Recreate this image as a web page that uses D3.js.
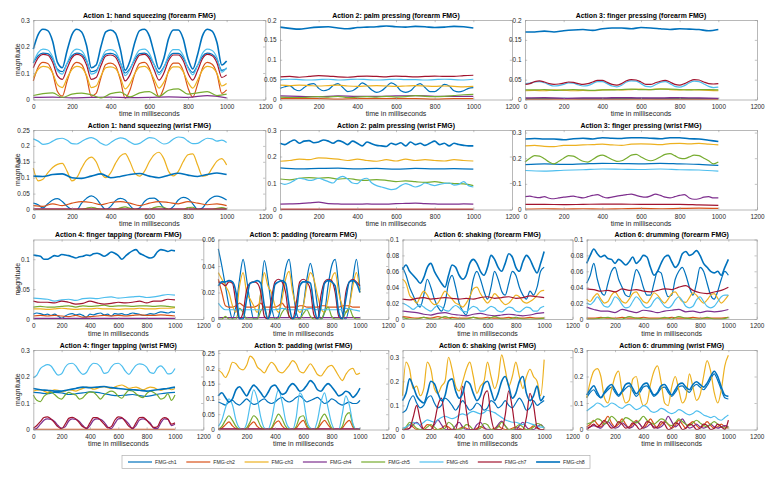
<!DOCTYPE html>
<html>
<head>
<meta charset="utf-8">
<script src="https://cdn.jsdelivr.net/npm/d3@7"></script>
<style>
  body { margin: 0; background: #fff; }
  svg { display: block; font-family: "Liberation Sans", Arial, Helvetica, sans-serif; }
</style>
</head>
<body>
<svg id="chart" width="777" height="478"></svg>
<script>
// channel names + matlab default colour order
const channels = ["FMG-ch1", "FMG-ch2", "FMG-ch3", "FMG-ch4", "FMG-ch5", "FMG-ch6", "FMG-ch7", "FMG-ch8"];
const colors = ["#0072BD", "#D95319", "#EDB120", "#7E2F8E", "#77AC30", "#4DBEEE", "#A2142F", "#0072BD"];
const xTicks = [0, 200, 400, 600, 800, 1000, 1200];

const titles = [
  "Action 1: hand squeezing (forearm FMG)", "Action 2: palm pressing (forearm FMG)", "Action 3: finger pressing (forearm FMG)",
  "Action 1: hand squeezing (wrist FMG)", "Action 2: palm pressing (wrist FMG)", "Action 3: finger pressing (wrist FMG)",
  "Action 4: finger tapping (forearm FMG)", "Action 5: padding (forearm FMG)", "Action 6: shaking (forearm FMG)", "Action 6: drumming (forearm FMG)",
  "Action 4: finger tapping (wrist FMG)", "Action 5: padding (wrist FMG)", "Action 6: shaking (wrist FMG)", "Action 6: drumming (wrist FMG)"
];
const yMax = [0.3, 0.2, 0.2, 0.25, 0.3, 0.31, 0.133, 0.06, 0.1, 0.1, 0.3, 0.26, 0.33, 0.3];
const yTicks = [
  [0, 0.1, 0.2, 0.3], [0, 0.05, 0.1, 0.15, 0.2], [0, 0.05, 0.1, 0.15, 0.2],
  [0, 0.05, 0.1, 0.15, 0.2, 0.25], [0, 0.1, 0.2, 0.3], [0, 0.1, 0.2, 0.3],
  [0, 0.05, 0.1], [0, 0.02, 0.04, 0.06], [0, 0.02, 0.04, 0.06, 0.08, 0.1], [0, 0.02, 0.04, 0.06, 0.08, 0.1],
  [0, 0.1, 0.2, 0.3], [0, 0.05, 0.1, 0.15, 0.2, 0.25], [0, 0.1, 0.2, 0.3], [0, 0.1, 0.2, 0.3]
];

// each series is sampled evenly over 0..1000 ms, ch1..ch8
const a1Forearm = [
  [0.138,0.165,0.175,0.173,0.153,0.114,0.105,0.136,0.165,0.175,0.171,0.146,0.105,0.11,0.144,0.171,0.174,0.168,0.139,0.1,0.117,0.151,0.173,0.175,0.163,0.132,0.102,0.122,0.158,0.174,0.174,0.158,0.122,0.102,0.129,0.163,0.175,0.171,0.151,0.11,0.117],
  [0.07,0.122,0.14,0.136,0.1,0.03,0.013,0.07,0.122,0.14,0.132,0.087,0.013,0.023,0.083,0.132,0.137,0.127,0.075,0.005,0.036,0.097,0.136,0.14,0.118,0.062,0.009,0.044,0.109,0.137,0.137,0.109,0.044,0.009,0.058,0.118,0.14,0.133,0.097,0.023,0.036],
  [0.083,0.114,0.125,0.122,0.1,0.056,0.045,0.081,0.114,0.125,0.12,0.092,0.045,0.051,0.089,0.12,0.123,0.117,0.084,0.04,0.06,0.098,0.122,0.125,0.111,0.076,0.043,0.065,0.105,0.123,0.123,0.105,0.065,0.043,0.073,0.111,0.125,0.121,0.098,0.051,0.06],
  [0.008,0.009,0.006,0.008,0.009,0.007,0.008,0.01,0.008,0.015,0.006],
  [0.015,0.022,0.025,0.008,0.02,0.024,0.018,0.006,0.022,0.028,0.01,0.025,0.03,0.012,0.035,0.04,0.02,0.025,0.03,0.015,0.02],
  [0.14,0.177,0.19,0.187,0.161,0.109,0.096,0.138,0.177,0.19,0.184,0.151,0.096,0.103,0.148,0.184,0.188,0.18,0.142,0.09,0.113,0.158,0.187,0.19,0.174,0.132,0.093,0.119,0.167,0.188,0.188,0.167,0.119,0.093,0.129,0.174,0.19,0.185,0.158,0.103,0.12],
  [0.12,0.157,0.17,0.167,0.141,0.089,0.076,0.118,0.157,0.17,0.164,0.131,0.076,0.083,0.128,0.164,0.168,0.16,0.122,0.07,0.093,0.138,0.167,0.17,0.154,0.112,0.073,0.099,0.147,0.168,0.168,0.147,0.099,0.073,0.109,0.154,0.17,0.165,0.138,0.083,0.093],
  [0.19,0.245,0.265,0.26,0.22,0.14,0.12,0.185,0.245,0.265,0.255,0.205,0.12,0.13,0.2,0.255,0.262,0.25,0.19,0.11,0.145,0.215,0.26,0.265,0.24,0.175,0.115,0.155,0.23,0.262,0.262,0.23,0.155,0.115,0.17,0.24,0.265,0.258,0.215,0.13,0.145]
];
const a2Forearm = [
  [0.028,0.032,0.035,0.026,0.022,0.03,0.038,0.04,0.028,0.022,0.025,0.035,0.04,0.03,0.02,0.022,0.03,0.042,0.035,0.024,0.018,0.022,0.032,0.042,0.036,0.022,0.018,0.022,0.034,0.04,0.03,0.02,0.02,0.028,0.038,0.034,0.022,0.019,0.022,0.028,0.03],
  [0.002,0.002,0.002,0.001,0.002,0.002,0.002,0.002,0.001,0.002,0.002],
  [0.036,0.035,0.036,0.035,0.034,0.035,0.036,0.034,0.033,0.034,0.035,0.034,0.033,0.034,0.035,0.034,0.033,0.034,0.033,0.032,0.033],
  [0.009,0.008,0.007,0.009,0.008,0.008,0.009,0.01,0.008,0.008,0.008],
  [0.006,0.005,0.005,0.006,0.007,0.006,0.008,0.005,0.006,0.007,0.006,0.008,0.006,0.007,0.01,0.008,0.007,0.008,0.01,0.012,0.013],
  [0.05,0.051,0.05,0.049,0.05,0.051,0.049,0.05,0.051,0.05,0.049,0.05,0.051,0.05,0.05,0.049,0.05,0.051,0.05,0.049,0.051],
  [0.057,0.058,0.056,0.058,0.06,0.059,0.057,0.056,0.058,0.059,0.058,0.057,0.059,0.058,0.057,0.058,0.059,0.058,0.058,0.06,0.061],
  [0.182,0.179,0.177,0.18,0.182,0.183,0.18,0.178,0.181,0.182,0.183,0.185,0.183,0.182,0.184,0.183,0.181,0.182,0.184,0.183,0.18]
];
const a3Forearm = [
  [0.002,0.002,0.003,0.002,0.002,0.002,0.003,0.002,0.002,0.002,0.002],
  [0.001,0.001,0.001,0.001,0.001,0.001,0.001,0.001,0.001,0.001,0.001],
  [0.022,0.023,0.022,0.024,0.023,0.022,0.023,0.022,0.024,0.025,0.024,0.025,0.026,0.025,0.027,0.025,0.024,0.025,0.024,0.023,0.022],
  [0.004,0.005,0.003,0.004,0.004,0.005,0.004,0.004,0.005,0.004,0.003],
  [0.024,0.024,0.025,0.023,0.024,0.025,0.024,0.023,0.024,0.024,0.025,0.026,0.025,0.025,0.026,0.026,0.025,0.024,0.025,0.025,0.024],
  [0.04,0.041,0.044,0.045,0.042,0.037,0.034,0.035,0.038,0.042,0.041,0.037,0.034,0.035,0.04,0.045,0.045,0.04,0.034,0.032,0.036,0.044,0.047,0.046,0.04,0.033,0.032,0.037,0.043,0.045,0.04,0.033,0.031,0.035,0.042,0.046,0.045,0.039,0.033,0.03,0.031],
  [0.038,0.04,0.045,0.047,0.044,0.04,0.038,0.039,0.041,0.044,0.043,0.04,0.038,0.04,0.044,0.048,0.048,0.043,0.038,0.036,0.04,0.047,0.05,0.049,0.044,0.038,0.038,0.042,0.046,0.048,0.044,0.038,0.036,0.04,0.046,0.05,0.049,0.044,0.04,0.039,0.04],
  [0.17,0.17,0.172,0.17,0.173,0.175,0.176,0.174,0.178,0.18,0.18,0.178,0.181,0.18,0.178,0.176,0.178,0.177,0.176,0.173,0.176]
];
const a1Wrist = [
  [0.02,0.015,0.005,0.018,0.03,0.034,0.025,0.01,0,0,0.02,0.035,0.043,0.035,0.015,0,0.01,0.028,0.035,0.03,0.012,0,0.005,0.025,0.035,0.036,0.025,0.005,0,0.01,0.03,0.038,0.034,0.018,0,0.005,0.025,0.038,0.042,0.038,0.03],
  [0.012,0.01,0.018,0.012,0.02,0.025,0.022,0.015,0.022,0.025,0.02,0.012,0.02,0.025,0.022,0.018,0.025,0.02,0.015,0.018,0.012],
  [0.13,0.09,0.095,0.115,0.132,0.142,0.145,0.12,0.09,0.1,0.13,0.155,0.165,0.15,0.115,0.1,0.115,0.145,0.168,0.176,0.15,0.115,0.105,0.12,0.15,0.172,0.18,0.16,0.12,0.106,0.12,0.15,0.172,0.175,0.14,0.105,0.108,0.13,0.152,0.16,0.14],
  [0.001,0.001,0.001,0.001,0.001,0.001,0.001,0.001,0.001,0.001,0.001],
  [0,0,0,0,0,0,0,0,0,0,0,0.004,0.007,0.004,0,0,0,0,0.005,0.008,0.004,0,0,0,0,0.006,0.009,0.007,0,0,0,0,0.006,0.007,0,0,0,0,0.004,0.006,0.002],
  [0.222,0.215,0.205,0.207,0.215,0.222,0.224,0.218,0.207,0.206,0.214,0.222,0.226,0.22,0.208,0.202,0.21,0.22,0.225,0.222,0.212,0.205,0.208,0.218,0.226,0.224,0.214,0.206,0.21,0.222,0.228,0.226,0.215,0.207,0.208,0.217,0.224,0.222,0.215,0.218,0.211],
  [0.001,0.001,0.001,0.001,0.001,0.001,0.001,0.001,0.001,0.001,0.001],
  [0.105,0.104,0.11,0.112,0.1,0.098,0.105,0.112,0.1,0.104,0.11,0.113,0.105,0.1,0.108,0.114,0.108,0.104,0.11,0.115,0.11]
];
const a2Wrist = [
  [0.157,0.153,0.155,0.156,0.153,0.155,0.152,0.155,0.153,0.154,0.152],
  [0.001,0.001,0.001,0.001,0.001,0.001,0.001,0.001,0.001,0.001,0.001],
  [0.182,0.185,0.19,0.188,0.195,0.193,0.19,0.185,0.19,0.185,0.182,0.188,0.183,0.19,0.185,0.188,0.185,0.183,0.188,0.185,0.183],
  [0.02,0.021,0.022,0.025,0.028,0.022,0.021,0.02,0.02,0.021,0.02,0.02,0.022,0.023,0.024,0.022,0.021,0.02,0.02,0.021,0.02],
  [0.115,0.112,0.118,0.12,0.118,0.12,0.115,0.117,0.112,0.11,0.113,0.11,0.105,0.108,0.105,0.102,0.105,0.1,0.098,0.097,0.09],
  [0.1,0.095,0.1,0.11,0.118,0.115,0.11,0.112,0.118,0.112,0.105,0.1,0.118,0.125,0.115,0.1,0.098,0.113,0.118,0.1,0.09,0.085,0.08,0.075,0.078,0.09,0.098,0.092,0.085,0.09,0.1,0.095,0.09,0.095,0.098,0.1,0.092,0.095,0.105,0.09,0.085],
  [0.001,0.001,0.001,0.001,0.001,0.001,0.001,0.001,0.001,0.001,0.001],
  [0.25,0.245,0.255,0.262,0.25,0.258,0.26,0.252,0.255,0.262,0.258,0.25,0.26,0.255,0.245,0.258,0.25,0.24,0.255,0.248,0.242,0.24,0.238,0.25,0.245,0.252,0.24,0.255,0.245,0.25,0.242,0.25,0.258,0.245,0.25,0.24,0.25,0.245,0.242,0.24,0.24]
];
const a3Wrist = [
  [0.175,0.178,0.176,0.178,0.18,0.179,0.178,0.18,0.178,0.176,0.172],
  [0.002,0.003,0.002,0.003,0.002,0.003,0.004,0.003,0.004,0.005,0.004],
  [0.248,0.25,0.246,0.245,0.25,0.25,0.252,0.253,0.255,0.252,0.25,0.255,0.256,0.255,0.253,0.257,0.258,0.256,0.258,0.255,0.252],
  [0.05,0.052,0.048,0.046,0.05,0.044,0.042,0.045,0.048,0.05,0.052,0.048,0.045,0.05,0.055,0.058,0.05,0.045,0.048,0.052,0.055,0.058,0.06,0.055,0.05,0.048,0.053,0.06,0.055,0.048,0.045,0.05,0.055,0.058,0.045,0.04,0.042,0.048,0.05,0.045,0.045],
  [0.185,0.2,0.21,0.208,0.198,0.185,0.178,0.188,0.2,0.21,0.208,0.198,0.188,0.185,0.195,0.207,0.212,0.205,0.195,0.188,0.19,0.2,0.212,0.215,0.205,0.195,0.19,0.195,0.205,0.215,0.218,0.21,0.2,0.198,0.205,0.212,0.21,0.2,0.19,0.178,0.185],
  [0.152,0.15,0.153,0.155,0.158,0.157,0.156,0.158,0.155,0.154,0.15],
  [0.02,0.02,0.019,0.02,0.021,0.021,0.02,0.02,0.02,0.018,0.016],
  [0.275,0.277,0.275,0.275,0.272,0.276,0.278,0.275,0.28,0.278,0.277,0.28,0.28,0.278,0.276,0.28,0.28,0.276,0.275,0.27,0.265]
];
const a4Forearm = [
  [0.008,0.01,0.009,0.007,0.008,0.006,0.008,0.005,0.001,0.005,0.008,0.009,0.007,0.008,0.006,0.003,0.008,0.007,0.009,0.01,0.007,0.008,0.005,0.009,0.008,0.009,0.007,0.008,0.01,0.009,0.008,0.006,0.007,0.009,0.008,0.01,0.012,0.011,0.01,0.012,0.011],
  [0.005,0.006,0.005,0.006,0.005,0.004,0.006,0.003,0.004,0.005,0.006,0.005,0.006,0.005,0.006,0.007,0.006,0.006,0.007,0.006,0.005],
  [0.017,0.017,0.016,0.017,0.018,0.017,0.016,0.017,0.017,0.018,0.017,0.017,0.016,0.017,0.017,0.018,0.017,0.017,0.018,0.018,0.019],
  [0.001,0.001,0.001,0.001,0.001,0.001,0.001,0.001,0.001,0.001,0.001],
  [0.02,0.021,0.02,0.02,0.021,0.022,0.02,0.022,0.021,0.022,0.023,0.021,0.022,0.022,0.021,0.022,0.022,0.021,0.022,0.021,0.02],
  [0.035,0.034,0.033,0.03,0.032,0.033,0.031,0.034,0.035,0.034,0.036,0.037,0.035,0.036,0.037,0.038,0.036,0.037,0.039,0.041,0.04],
  [0.03,0.028,0.028,0.027,0.03,0.028,0.025,0.026,0.03,0.027,0.025,0.026,0.028,0.027,0.028,0.03,0.027,0.03,0.03,0.033,0.032],
  [0.107,0.106,0.105,0.1,0.1,0.103,0.106,0.105,0.108,0.107,0.106,0.104,0.102,0.104,0.105,0.107,0.106,0.109,0.11,0.108,0.105,0.108,0.112,0.11,0.106,0.1,0.105,0.11,0.114,0.116,0.11,0.107,0.104,0.102,0.104,0.112,0.116,0.115,0.113,0.115,0.114]
];
const a5Forearm = [
  [0.053,0.04,0.025,0.01,0,0.01,0.03,0.045,0.03,0.012,0,0,0.02,0.044,0.03,0.01,0,0.002,0.02,0.038,0.045,0.025,0.005,0,0.01,0.03,0.042,0.03,0.01,0,0.005,0.025,0.04,0.045,0.025,0.005,0,0.01,0.03,0.045,0.022],
  [0.03,0.02,0.01,0.009,0.009,0.01,0.012,0.01,0.009,0.009,0.009,0.01,0.012,0.009,0.009,0.009,0.009,0.01,0.012,0.009,0.009,0.009,0.009,0.01,0.01,0.009,0.009,0.009,0.009,0.01,0.01,0.009,0.009,0.009,0.009,0.01,0.01,0.01,0.009,0.009,0.009],
  [0.035,0.03,0.025,0.02,0.01,0.005,0.025,0.035,0.02,0.015,0.01,0.005,0.02,0.035,0.025,0.02,0.01,0.005,0.015,0.03,0.036,0.02,0.01,0.005,0.01,0.025,0.035,0.03,0.018,0.008,0.005,0.015,0.03,0.035,0.02,0.01,0.005,0.01,0.025,0.035,0.02],
  [0.001,0.001,0.001,0.001,0.001,0.001,0.001,0.001,0.001,0.001,0.001],
  [0,0,0.002,0,0,0,0.008,0.005,0,0,0,0,0.006,0.009,0,0,0,0,0.005,0.008,0.002,0,0,0,0.004,0.007,0.002,0,0,0,0.005,0.009,0.002,0,0,0,0.005,0.008,0.002,0,0],
  [0.012,0.007,0.007,0.007,0.007,0.007,0.007,0.007,0.007,0.008,0.007,0.007,0.007,0.008,0.007,0.007,0.007,0.007,0.008,0.007,0.006],
  [0.028,0.027,0.025,0.028,0.027,0.012,0,0.005,0.022,0.027,0.028,0.027,0.02,0.002,0,0.015,0.028,0.03,0.028,0.02,0.002,0,0.012,0.028,0.03,0.028,0.022,0.003,0,0.018,0.028,0.03,0.029,0.02,0.002,0,0.02,0.028,0.03,0.028,0.025],
  [0.025,0.028,0.028,0.029,0.028,0.02,0,0,0.015,0.027,0.028,0.029,0.027,0.01,0,0.008,0.026,0.028,0.029,0.027,0.01,0,0.005,0.025,0.028,0.028,0.027,0.01,0,0.01,0.027,0.029,0.028,0.025,0.005,0,0.015,0.028,0.029,0.027,0.02]
];
const a6ShakeForearm = [
  [0.065,0.055,0.04,0.03,0.02,0.015,0.03,0.05,0.04,0.025,0.015,0.01,0.02,0.045,0.055,0.04,0.02,0.01,0.005,0.025,0.05,0.06,0.05,0.035,0.025,0.04,0.06,0.05,0.035,0.03,0.045,0.06,0.055,0.04,0.03,0.025,0.035,0.03,0.04,0.06,0.065],
  [0.003,0.002,0.001,0.002,0.001,0.003,0.001,0.002,0.001,0.001,0.002,0.001,0.002,0.001,0.001,0.002,0.001,0.001,0.002,0.001,0.001],
  [0.05,0.045,0.03,0.025,0.02,0.028,0.035,0.03,0.022,0.018,0.02,0.028,0.035,0.03,0.025,0.02,0.018,0.015,0.02,0.028,0.038,0.04,0.032,0.025,0.02,0.025,0.032,0.028,0.022,0.018,0.02,0.025,0.03,0.028,0.022,0.02,0.022,0.025,0.03,0.035,0.036],
  [0.01,0.009,0.008,0.006,0.005,0.007,0.008,0.006,0.005,0.004,0.006,0.007,0.005,0.004,0.005,0.006,0.005,0.004,0.005,0.007,0.008],
  [0.002,0,0,0.002,0,0,0.003,0,0,0,0.002,0,0,0.003,0,0,0.002,0,0,0,0.001],
  [0.02,0.018,0.015,0.012,0.015,0.018,0.015,0.012,0.01,0.014,0.017,0.015,0.011,0.01,0.014,0.017,0.014,0.01,0.009,0.013,0.016,0.014,0.01,0.01,0.013,0.016,0.014,0.01,0.009,0.012,0.015,0.014,0.01,0.009,0.012,0.015,0.014,0.01,0.01,0.014,0.016],
  [0.025,0.024,0.026,0.027,0.025,0.026,0.027,0.026,0.025,0.026,0.025,0.027,0.028,0.026,0.027,0.028,0.026,0.027,0.029,0.028,0.027],
  [0.062,0.068,0.06,0.055,0.05,0.045,0.052,0.065,0.07,0.06,0.052,0.045,0.04,0.055,0.068,0.065,0.055,0.05,0.055,0.07,0.075,0.07,0.06,0.055,0.065,0.08,0.075,0.065,0.06,0.07,0.082,0.078,0.065,0.06,0.072,0.08,0.075,0.065,0.058,0.07,0.085]
];
const a6DrumForearm = [
  [0.045,0.055,0.07,0.05,0.035,0.03,0.045,0.06,0.065,0.05,0.04,0.03,0.028,0.045,0.062,0.055,0.04,0.03,0.03,0.045,0.06,0.058,0.04,0.028,0.03,0.05,0.06,0.065,0.055,0.04,0.03,0.045,0.065,0.06,0.045,0.03,0.025,0.035,0.05,0.06,0.055],
  [0.001,0.001,0.002,0.001,0.001,0.002,0.001,0.001,0.002,0.001,0.001,0.001,0.002,0.001,0.001,0.002,0.001,0.001,0.001,0.001,0.002],
  [0.025,0.022,0.028,0.032,0.025,0.02,0.022,0.03,0.034,0.028,0.022,0.02,0.025,0.032,0.034,0.028,0.022,0.02,0.026,0.033,0.03,0.024,0.02,0.025,0.032,0.034,0.028,0.022,0.021,0.027,0.033,0.03,0.024,0.02,0.024,0.03,0.032,0.026,0.02,0.024,0.03],
  [0.015,0.012,0.01,0.01,0.008,0.012,0.01,0.008,0.011,0.01,0.008,0.01,0.011,0.012,0.009,0.01,0.008,0.01,0.009,0.01,0.012],
  [0,0,0.001,0.002,0,0,0.003,0.001,0,0,0,0.002,0,0.003,0.001,0,0,0.002,0,0,0.002],
  [0.02,0.018,0.022,0.028,0.022,0.016,0.015,0.02,0.028,0.025,0.018,0.014,0.015,0.022,0.028,0.024,0.017,0.014,0.016,0.023,0.027,0.022,0.016,0.014,0.017,0.024,0.028,0.023,0.016,0.014,0.016,0.024,0.028,0.022,0.016,0.014,0.016,0.022,0.028,0.03,0.03],
  [0.038,0.037,0.035,0.036,0.034,0.038,0.036,0.037,0.035,0.034,0.036,0.038,0.037,0.04,0.042,0.036,0.033,0.032,0.034,0.036,0.04],
  [0.07,0.08,0.088,0.082,0.078,0.08,0.076,0.075,0.07,0.075,0.072,0.068,0.072,0.078,0.07,0.074,0.08,0.078,0.065,0.055,0.06,0.07,0.078,0.08,0.072,0.065,0.07,0.082,0.085,0.08,0.082,0.086,0.08,0.07,0.065,0.06,0.058,0.06,0.055,0.065,0.075]
];
const a4Wrist = [
  [0.14,0.138,0.135,0.14,0.138,0.132,0.135,0.138,0.142,0.14,0.135,0.13,0.128,0.13,0.132,0.128,0.125,0.13,0.135,0.138,0.14],
  [0.001,0.001,0.001,0.001,0.001,0.001,0.001,0.001,0.001,0.001,0.001],
  [0.145,0.148,0.15,0.145,0.14,0.145,0.15,0.148,0.142,0.145,0.15,0.148,0.145,0.15,0.155,0.16,0.158,0.152,0.155,0.16,0.162,0.158,0.155,0.16,0.165,0.168,0.162,0.155,0.158,0.16,0.155,0.15,0.155,0.16,0.158,0.152,0.148,0.152,0.155,0.15,0.155],
  [0,0.005,0.02,0.035,0.04,0.038,0.03,0.015,0.005,0.01,0.032,0.04,0.038,0.03,0.015,0.003,0.015,0.035,0.04,0.038,0.028,0.01,0.003,0.022,0.04,0.042,0.035,0.02,0.003,0.015,0.036,0.04,0.035,0.025,0.005,0.003,0.025,0.04,0.038,0.015,0.02],
  [0.13,0.11,0.105,0.125,0.135,0.14,0.132,0.12,0.115,0.13,0.14,0.135,0.13,0.115,0.12,0.135,0.142,0.14,0.128,0.115,0.13,0.14,0.145,0.14,0.125,0.118,0.135,0.148,0.145,0.135,0.125,0.12,0.135,0.145,0.14,0.13,0.115,0.12,0.135,0.11,0.13],
  [0.195,0.205,0.23,0.24,0.245,0.24,0.22,0.205,0.21,0.235,0.248,0.25,0.24,0.22,0.208,0.215,0.238,0.25,0.248,0.235,0.212,0.215,0.235,0.248,0.25,0.24,0.22,0.208,0.225,0.242,0.248,0.245,0.235,0.215,0.212,0.232,0.24,0.228,0.21,0.212,0.23],
  [0.005,0.015,0.03,0.045,0.048,0.04,0.025,0.01,0.003,0.02,0.042,0.046,0.04,0.025,0.01,0.005,0.025,0.045,0.045,0.035,0.02,0.006,0.01,0.035,0.048,0.045,0.03,0.012,0.005,0.025,0.045,0.046,0.035,0.02,0.008,0.01,0.035,0.045,0.04,0.02,0.025],
  [0.155,0.15,0.148,0.145,0.145,0.15,0.155,0.16,0.158,0.16,0.162,0.158,0.155,0.152,0.15,0.148,0.145,0.148,0.152,0.155,0.16]
];
const a5Wrist = [
  [0.09,0.085,0.08,0.09,0.095,0.085,0.08,0.09,0.1,0.09,0.082,0.085,0.095,0.1,0.09,0.085,0.09,0.1,0.105,0.095,0.09,0.095,0.105,0.11,0.1,0.09,0.095,0.1,0.105,0.095,0.085,0.09,0.1,0.095,0.085,0.08,0.085,0.09,0.085,0.085,0.095],
  [0,0.005,0.015,0.025,0.012,0.003,0,0,0.002,0.015,0.025,0.01,0.002,0,0,0.003,0.02,0.028,0.012,0.002,0,0,0.005,0.02,0.03,0.008,0,0,0.003,0.018,0.03,0.015,0.003,0,0,0.005,0.02,0.03,0.008,0,0],
  [0.195,0.185,0.17,0.19,0.22,0.215,0.2,0.195,0.21,0.24,0.23,0.205,0.195,0.185,0.205,0.22,0.21,0.19,0.185,0.195,0.21,0.225,0.215,0.19,0.185,0.2,0.215,0.2,0.18,0.175,0.19,0.205,0.21,0.195,0.175,0.16,0.18,0.195,0.2,0.18,0.185],
  [0.002,0.002,0.002,0.002,0.002,0.002,0.002,0.002,0.002,0.002,0.002],
  [0,0.01,0.03,0.045,0.03,0.01,0,0,0.005,0.025,0.045,0.035,0.01,0,0,0.005,0.03,0.05,0.035,0.01,0,0,0.01,0.04,0.045,0.015,0,0,0.005,0.035,0.05,0.03,0.005,0,0,0.01,0.045,0.055,0.015,0,0],
  [0.01,0.03,0.07,0.1,0.08,0.03,0.005,0,0.02,0.08,0.13,0.1,0.04,0.005,0,0.03,0.09,0.13,0.09,0.03,0.005,0,0.04,0.12,0.1,0.03,0.005,0,0.03,0.09,0.12,0.07,0.02,0,0,0.05,0.11,0.08,0.02,0,0.005],
  [0.001,0.001,0.001,0.001,0.001,0.001,0.001,0.001,0.001,0.001,0.001],
  [0.11,0.12,0.105,0.09,0.1,0.13,0.14,0.125,0.11,0.13,0.145,0.135,0.12,0.105,0.12,0.14,0.145,0.13,0.115,0.12,0.14,0.15,0.14,0.125,0.13,0.145,0.16,0.15,0.13,0.125,0.14,0.15,0.14,0.125,0.11,0.115,0.125,0.12,0.105,0.115,0.135]
];
const a6ShakeWrist = [
  [0.07,0.08,0.12,0.14,0.11,0.09,0.1,0.13,0.14,0.11,0.09,0.1,0.13,0.12,0.1,0.08,0.1,0.12,0.1,0.08,0.09,0.11,0.1,0.08,0.09,0.12,0.11,0.09,0.1,0.12,0.1,0.09,0.11,0.13,0.11,0.08,0.09,0.12,0.1,0.11,0.12],
  [0,0.005,0.02,0.01,0,0,0.005,0.02,0.015,0,0,0.005,0.015,0.01,0,0,0.003,0.01,0.005,0,0,0.005,0.012,0.005,0,0,0.005,0.015,0.005,0,0,0.005,0.01,0.005,0,0,0.005,0.015,0.005,0,0],
  [0.14,0.28,0.25,0.17,0.18,0.14,0.17,0.28,0.25,0.17,0.15,0.18,0.2,0.3,0.25,0.18,0.16,0.2,0.25,0.28,0.22,0.15,0.18,0.2,0.28,0.22,0.17,0.21,0.31,0.25,0.18,0.22,0.28,0.22,0.17,0.22,0.25,0.22,0.2,0.14,0.29],
  [0,0,0.005,0.02,0.03,0.015,0,0,0,0.02,0.04,0.02,0,0,0,0.015,0.03,0.01,0,0,0,0.02,0.03,0.01,0,0,0,0.02,0.035,0.015,0,0,0,0.015,0.03,0.01,0,0,0.01,0.02,0.005],
  [0,0.01,0.03,0.02,0.005,0,0,0.01,0.02,0.01,0,0,0.005,0.03,0.02,0,0,0.005,0.02,0.015,0,0,0.005,0.025,0.02,0,0,0.01,0.03,0.015,0,0,0.01,0.02,0.01,0,0,0.01,0.025,0.02,0.005],
  [0.005,0.01,0.02,0.03,0.025,0.02,0.03,0.04,0.035,0.03,0.04,0.05,0.055,0.05,0.045,0.05,0.06,0.065,0.06,0.07,0.075,0.07,0.065,0.07,0.08,0.075,0.07,0.06,0.05,0.04,0.035,0.03,0.03,0.025,0.02,0.03,0.025,0.02,0.015,0.01,0.01],
  [0,0,0.005,0.05,0.1,0.04,0,0,0,0.03,0.1,0.13,0.04,0,0,0,0.07,0.18,0.08,0,0,0,0.04,0.14,0.16,0.05,0,0,0,0.06,0.16,0.09,0,0,0,0.05,0.15,0.1,0.01,0,0],
  [0.12,0.15,0.21,0.18,0.14,0.12,0.11,0.15,0.2,0.19,0.15,0.12,0.14,0.2,0.21,0.16,0.13,0.15,0.2,0.19,0.15,0.12,0.14,0.19,0.2,0.16,0.12,0.15,0.2,0.22,0.18,0.13,0.15,0.2,0.22,0.15,0.12,0.14,0.18,0.12,0.14]
];
const a6DrumWrist = [
  [0.12,0.14,0.15,0.13,0.12,0.135,0.15,0.16,0.14,0.125,0.14,0.155,0.165,0.145,0.125,0.14,0.16,0.165,0.145,0.125,0.135,0.155,0.16,0.14,0.125,0.14,0.16,0.165,0.15,0.14,0.16,0.17,0.16,0.15,0.165,0.19,0.21,0.185,0.15,0.12,0.115],
  [0.01,0.02,0.035,0.02,0.01,0.03,0.05,0.025,0.01,0.02,0.04,0.02,0.005,0.02,0.035,0.02,0.005,0.02,0.04,0.02,0.005,0.02,0.03,0.02,0.005,0.015,0.035,0.02,0.005,0.02,0.03,0.015,0.005,0.015,0.03,0.015,0.005,0.01,0.02,0.01,0.005],
  [0.12,0.18,0.22,0.23,0.2,0.12,0.1,0.15,0.2,0.22,0.14,0.1,0.11,0.19,0.2,0.13,0.09,0.1,0.17,0.22,0.24,0.18,0.1,0.09,0.16,0.2,0.15,0.1,0.12,0.21,0.16,0.11,0.13,0.2,0.26,0.22,0.14,0.1,0.15,0.24,0.28],
  [0.005,0.01,0.015,0.01,0.005,0.02,0.03,0.015,0.005,0.01,0.025,0.015,0.005,0.01,0.03,0.02,0.005,0.01,0.02,0.01,0.005,0.01,0.025,0.05,0.03,0.01,0.02,0.04,0.02,0.005,0.01,0.02,0.01,0.005,0.01,0.02,0.01,0.005,0.01,0.015,0.01],
  [0.02,0.025,0.03,0.04,0.035,0.02,0.03,0.05,0.04,0.025,0.03,0.045,0.04,0.03,0.025,0.035,0.05,0.035,0.025,0.02,0.03,0.04,0.035,0.02,0.015,0.025,0.04,0.03,0.02,0.015,0.025,0.035,0.025,0.015,0.01,0.02,0.03,0.02,0.01,0.005,0.01],
  [0.07,0.08,0.09,0.1,0.095,0.085,0.09,0.1,0.095,0.085,0.08,0.09,0.095,0.085,0.075,0.08,0.09,0.085,0.07,0.065,0.07,0.08,0.075,0.065,0.06,0.065,0.075,0.07,0.06,0.055,0.06,0.07,0.065,0.055,0.05,0.045,0.05,0.04,0.035,0.045,0.055],
  [0,0.01,0.02,0.01,0.02,0.035,0.02,0.005,0.01,0.03,0.02,0.005,0.01,0.025,0.015,0,0.01,0.03,0.025,0.005,0.01,0.03,0.02,0,0.005,0.025,0.02,0,0.005,0.02,0.015,0,0.005,0.02,0.015,0,0.005,0.02,0.01,0,0.035],
  [0.13,0.15,0.165,0.14,0.12,0.14,0.16,0.17,0.15,0.13,0.145,0.17,0.175,0.155,0.135,0.15,0.17,0.175,0.15,0.13,0.14,0.165,0.17,0.15,0.13,0.15,0.17,0.175,0.16,0.15,0.17,0.18,0.17,0.16,0.175,0.2,0.22,0.2,0.16,0.13,0.125]
];

const panelData = [a1Forearm, a2Forearm, a3Forearm, a1Wrist, a2Wrist, a3Wrist,
  a4Forearm, a5Forearm, a6ShakeForearm, a6DrumForearm, a4Wrist, a5Wrist, a6ShakeWrist, a6DrumWrist];

// layout: [left, top, width] of each axes box (x axis runs 0..1200)
const plotH = 79.5;
const rowTop = [20, 130, 239.5, 350];
const wideLeft = [33.3, 280, 525], wideW = 232;
const narrowLeft = [33.3, 218.3, 402.5, 586.7], narrowW = 170;
const boxes = [];
for (let r = 0; r < 2; r++) wideLeft.forEach(l => boxes.push([l, rowTop[r], wideW]));
for (let r = 2; r < 4; r++) narrowLeft.forEach(l => boxes.push([l, rowTop[r], narrowW]));

const svg = d3.select("#chart");
const fmt = v => String(+v.toFixed(3));
const axisCol = "#262626";

panelData.forEach((series, i) => {
  const [left, top, w] = boxes[i];
  const x = d3.scaleLinear().domain([0, 1200]).range([left, left + w]);
  const y = d3.scaleLinear().domain([0, yMax[i]]).range([top + plotH, top]);
  const g = svg.append("g");

  series.forEach((vals, c) => {
    const step = 1000 / (vals.length - 1);
    const line = d3.line()
      .x((d, k) => x(k * step))
      .y(d => y(d))
      .curve(d3.curveMonotoneX);
    g.append("path")
      .attr("d", line(vals))
      .attr("fill", "none")
      .attr("stroke", colors[c])
      .attr("stroke-width", c === 7 ? 1.6 : 1.2)
      .attr("stroke-linejoin", "round");
  });

  // box + inward ticks on all four sides
  const tk = 2.2;
  const bottom = g.append("g").attr("transform", `translate(0,${top + plotH})`)
    .call(d3.axisBottom(x).tickValues(xTicks).tickFormat(fmt).tickSizeInner(-tk).tickSizeOuter(0).tickPadding(4.5));
  const leftAx = g.append("g").attr("transform", `translate(${left},0)`)
    .call(d3.axisLeft(y).tickValues(yTicks[i]).tickFormat(fmt).tickSizeInner(-tk).tickSizeOuter(0).tickPadding(3.5));
  const topAx = g.append("g").attr("transform", `translate(0,${top})`)
    .call(d3.axisTop(x).tickValues(xTicks).tickFormat("").tickSizeInner(-tk).tickSizeOuter(0));
  const rightAx = g.append("g").attr("transform", `translate(${left + w},0)`)
    .call(d3.axisRight(y).tickValues(yTicks[i]).tickFormat("").tickSizeInner(-tk).tickSizeOuter(0));
  [bottom, leftAx, topAx, rightAx].forEach(a => {
    a.select(".domain").attr("stroke", "#9a9a9a").attr("stroke-width", 0.7);
    a.selectAll(".tick line").attr("stroke", "#9a9a9a").attr("stroke-width", 0.6);
    a.selectAll("text").attr("fill", axisCol).attr("font-size", 6.4).attr("font-family", null);
  });

  g.append("text")
    .attr("x", left + w / 2).attr("y", top - 2.5)
    .attr("text-anchor", "middle")
    .attr("font-size", 6.9).attr("font-weight", "bold").attr("fill", "#000")
    .text(titles[i]);

  g.append("text")
    .attr("x", x(600)).attr("y", top + plotH + 16.5)
    .attr("text-anchor", "middle")
    .attr("font-size", 7).attr("fill", axisCol)
    .text("time in milliseconds");

  if (left < 40) {
    g.append("text")
      .attr("transform", `translate(20,${top + plotH / 2}) rotate(-90)`)
      .attr("text-anchor", "middle")
      .attr("font-size", 7).attr("fill", axisCol)
      .text("magnitude");
  }
});

// legend along the bottom
const leg = svg.append("g");
leg.append("rect")
  .attr("x", 122).attr("y", 455.5).attr("width", 468).attr("height", 13)
  .attr("fill", "#fff").attr("stroke", "#b0b0b0").attr("stroke-width", 0.7);
channels.forEach((name, c) => {
  const lx = 128 + c * 58.3;
  leg.append("line")
    .attr("x1", lx).attr("x2", lx + 24).attr("y1", 462).attr("y2", 462)
    .attr("stroke", colors[c]).attr("stroke-width", c === 7 ? 1.6 : 1.2);
  leg.append("text")
    .attr("x", lx + 27).attr("y", 463.8)
    .attr("font-size", 5.2).attr("fill", axisCol)
    .text(name);
});
</script>
</body>
</html>
